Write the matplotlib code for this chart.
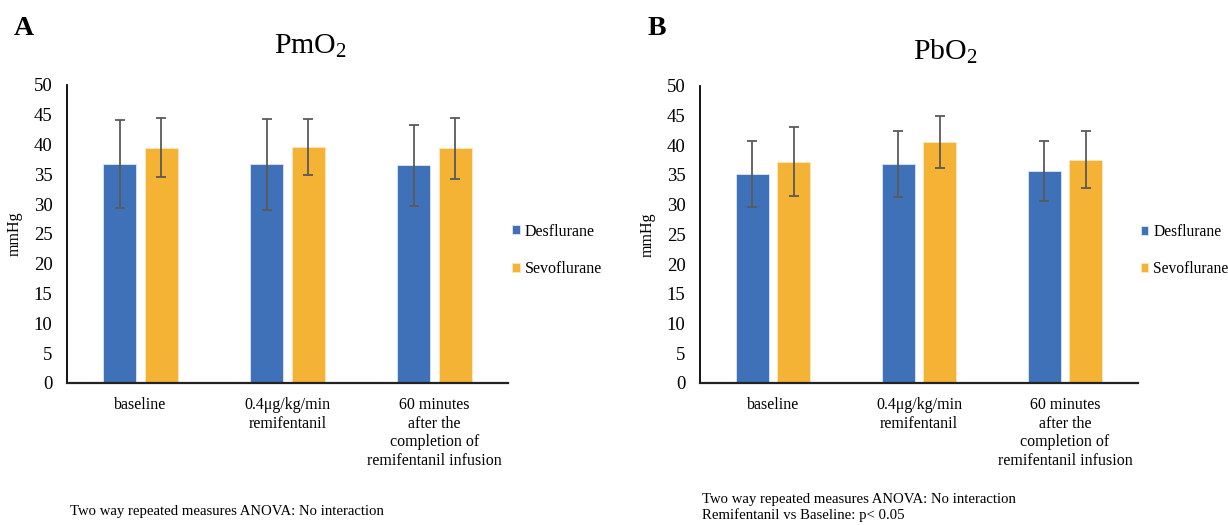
import matplotlib
matplotlib.use("Agg")
import matplotlib.pyplot as plt
import numpy as np

plt.rcParams["font.family"] = ["Liberation Serif", "DejaVu Serif"]
plt.rcParams["mathtext.fontset"] = "custom"
plt.rcParams["mathtext.rm"] = "Liberation Serif"
plt.rcParams["mathtext.it"] = "Liberation Serif:italic"

categories = ["baseline", "0.4μg/kg/min\nremifentanil",
              "60 minutes\nafter the\ncompletion of\nremifentanil infusion"]
series = ["Desflurane", "Sevoflurane"]
colors = ["#3F71B9", "#F4B335"]

# Panel A: PmO2 (mean, SD)
pmo2_des = [36.7, 36.7, 36.5]
pmo2_des_sd = [7.35, 7.6, 6.75]
pmo2_sevo = [39.5, 39.6, 39.4]
pmo2_sevo_sd = [4.9, 4.7, 5.1]

# Panel B: PbO2 (mean, SD)
pbo2_des = [35.2, 36.9, 35.7]
pbo2_des_sd = [5.55, 5.55, 5.05]
pbo2_sevo = [37.2, 40.5, 37.6]
pbo2_sevo_sd = [5.8, 4.4, 4.85]

yticks = list(range(0, 51, 5))

fig = plt.figure(figsize=(12.28, 5.25), dpi=100)
axA = fig.add_axes([0.0546, 0.2705, 0.359, 0.5676])
axB = fig.add_axes([0.570, 0.2705, 0.3567, 0.566])


def draw_panel(ax, des, des_sd, sevo, sevo_sd, legend_x, legend_size):
    x = np.arange(len(categories))
    off = 0.142
    bw = 0.227
    for vals, sd, color, edge, sign, name in [
            (des, des_sd, colors[0], "#dfe6f2", -1, series[0]),
            (sevo, sevo_sd, colors[1], "#fbe7bf", 1, series[1])]:
        ax.bar(x + sign * off, vals, width=bw, color=color, edgecolor=edge,
               linewidth=0.6, label=name, zorder=2)
        ax.errorbar(x + sign * off, vals, yerr=sd, fmt="none", ecolor="#5a5a5a",
                    elinewidth=1.3, capsize=3.5, capthick=1.3, zorder=3)
    ax.set_xlim(-0.5, len(categories) - 0.5)
    ax.set_ylim(0, 50)
    ax.set_yticks(yticks)
    ax.set_xticks(x)
    ax.set_xticklabels(categories, fontsize=11.5, linespacing=1.22)
    ax.tick_params(axis="y", length=0, labelsize=13.5, pad=10.5)
    ax.tick_params(axis="x", length=0, pad=10, labelsize=11.5)
    for s in ["top", "right"]:
        ax.spines[s].set_visible(False)
    ax.spines["left"].set_linewidth(1.3)
    ax.spines["bottom"].set_linewidth(1.6)
    ax.spines["left"].set_color("black")
    ax.spines["bottom"].set_color("#222222")
    ax.set_ylabel("mmHg", fontsize=11.5, labelpad=8)
    ax.legend(loc="center left", bbox_to_anchor=(legend_x, 0.445), frameon=False,
              handlelength=0.5, handleheight=0.5, handletextpad=0.3,
              labelspacing=1.35, fontsize=legend_size, borderaxespad=0, borderpad=0)


draw_panel(axA, pmo2_des, pmo2_des_sd, pmo2_sevo, pmo2_sevo_sd, 1.009, 11.5)
draw_panel(axB, pbo2_des, pbo2_des_sd, pbo2_sevo, pbo2_sevo_sd, 1.006, 11.2)

fig.text(0.253, 0.912, "PmO$_2$", fontsize=21.5, ha="center", va="center")
fig.text(0.770, 0.902, "PbO$_2$", fontsize=21.5, ha="center", va="center")
fig.text(0.011, 0.946, "A", fontsize=20, fontweight="bold", ha="left", va="center")
fig.text(0.527, 0.946, "B", fontsize=20, fontweight="bold", ha="left", va="center")

fig.text(0.057, 0.025, "Two way repeated measures ANOVA: No interaction", fontsize=10.6,
         ha="left", va="center")
fig.text(0.572, 0.048, "Two way repeated measures ANOVA: No interaction", fontsize=10.6,
         ha="left", va="center")
fig.text(0.572, 0.006, "Remifentanil vs Baseline: p< 0.05", fontsize=10.6,
         ha="left", va="bottom")

fig.savefig("out.png", dpi=100)
